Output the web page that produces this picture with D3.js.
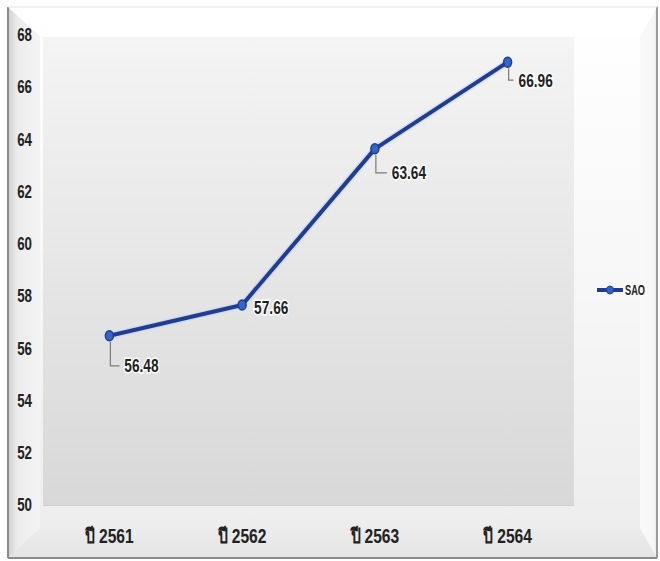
<!DOCTYPE html>
<html><head><meta charset="utf-8">
<script src="https://cdn.jsdelivr.net/npm/d3@7"></script>
<style>
html,body{margin:0;padding:0;background:#fff;}
svg text{font-family:"Liberation Sans","DejaVu Sans Condensed","Noto Sans",sans-serif;font-weight:bold;fill:#222;}
</style></head>
<body>
<script>
const categories = ["ปี 2561", "ปี 2562", "ปี 2563", "ปี 2564"];
const seriesName = "SAO";
const values = [56.48, 57.66, 63.64, 66.96];
const yTicks = [50, 52, 54, 56, 58, 60, 62, 64, 66, 68];
// label placement style: [dx, dy, leader]
const labelStyle = [[15, 30, true], [12, 2, false], [17, 24, true], [11, 18, true]];

const W = 660, H = 561;
const svg = d3.select("body").append("svg").attr("width", W).attr("height", H);
const defs = svg.append("defs");

function lg(id, x1, y1, x2, y2, stops){
  const g = defs.append("linearGradient").attr("id", id)
    .attr("x1", x1).attr("y1", y1).attr("x2", x2).attr("y2", y2);
  stops.forEach(s => g.append("stop").attr("offset", s[0]).attr("stop-color", s[1]));
}
// narrow text: horizontal squeeze about the text's own x
function condense(sel, k){
  sel.each(function(){
    const t = d3.select(this);
    const xx = +t.attr("x") || 0;
    t.attr("transform", `translate(${xx},0) scale(${k},1) translate(${-xx},0)`);
  });
}
lg("plotG", 0, 0, 0, 1, [[0, "#f4f4f4"], [1, "#d8d8d8"]]);
lg("leftG", 0, 0, 1, 0, [[0, "#cfcfcf"], [0.3, "#ececec"], [1, "#f4f4f4"]]);
lg("botG", 0, 0, 0, 1, [[0, "#ececec"], [1, "#e4e4e4"]]);
lg("rightG", 0, 0, 1, 0, [[0, "#fafafa"], [0.85, "#f6f6f6"], [1, "#dedede"]]);
lg("innerG", 0, 0, 0, 1, [[0, "#ffffff"], [0.5, "#f7f7f7"], [1, "#ececec"]]);

// frame
const O = {x0: 8, y0: 7, x1: 657, y1: 558};
const I = {x0: 40, y0: 36, x1: 640, y1: 528};
svg.append("rect").attr("x", O.x0).attr("y", O.y0).attr("width", O.x1 - O.x0).attr("height", O.y1 - O.y0).attr("fill", "url(#innerG)");
svg.append("path").attr("d", `M${O.x0},${O.y0}L${I.x0},${I.y0}L${I.x0},${I.y1}L${O.x0},${O.y1}Z`).attr("fill", "url(#leftG)");
svg.append("path").attr("d", `M${O.x0},${O.y1}L${I.x0},${I.y1}L${I.x1},${I.y1}L${O.x1},${O.y1}Z`).attr("fill", "url(#botG)");
svg.append("path").attr("d", `M${O.x1},${O.y0}L${I.x1},${I.y0}L${I.x1},${I.y1}L${O.x1},${O.y1}Z`).attr("fill", "url(#rightG)");
svg.append("path").attr("d", `M${O.x0},${O.y0}L${I.x0},${I.y0}L${I.x1},${I.y0}L${O.x1},${O.y0}Z`).attr("fill", "#ffffff");
svg.append("line").attr("x1", O.x0).attr("x2", O.x0).attr("y1", O.y0).attr("y2", O.y1).attr("stroke", "#8a8a8a").attr("stroke-width", 2);
svg.append("line").attr("x1", O.x1).attr("x2", O.x1).attr("y1", O.y0).attr("y2", O.y1).attr("stroke", "#9a9a9a").attr("stroke-width", 2);
svg.append("line").attr("x1", O.x0).attr("x2", O.x1).attr("y1", O.y1).attr("y2", O.y1).attr("stroke", "#8a8a8a").attr("stroke-width", 2);
svg.append("line").attr("x1", O.x0).attr("x2", O.x1).attr("y1", O.y0).attr("y2", O.y0).attr("stroke", "#e2e2e2").attr("stroke-width", 1);

// plot
const P = {left: 43, right: 574, top: 37, bottom: 505};
svg.append("rect").attr("x", P.left).attr("y", P.top).attr("width", P.right - P.left).attr("height", P.bottom - P.top).attr("fill", "url(#plotG)");
svg.append("line").attr("x1", P.left).attr("x2", P.right).attr("y1", P.bottom + 0.5).attr("y2", P.bottom + 0.5).attr("stroke", "#cfcfcf");

const x = d3.scaleBand().domain(categories).range([P.left, P.right]);
const y = d3.scaleLinear().domain([50, 68]).range([505, 35]);

const yAxis = svg.append("g").attr("transform", `translate(32,0)`)
  .call(d3.axisLeft(y).tickValues(yTicks).tickSize(0).tickPadding(0));
yAxis.select(".domain").remove();
yAxis.selectAll("text").attr("font-size", 18).attr("fill", "#222").style("font-family", null).call(condense, 0.74);

const xAxis = svg.append("g").attr("transform", `translate(0,${P.bottom})`)
  .call(d3.axisBottom(x).tickSize(0).tickPadding(24));
xAxis.select(".domain").remove();
xAxis.selectAll("text").attr("font-size", 20).attr("fill", "#222").style("font-family", null).call(condense, 0.78);

const cx = d => x(d) + x.bandwidth() / 2;
const pts = categories.map((c, i) => [cx(c), y(values[i])]);

const line = d3.line();
svg.append("path").attr("d", line(pts)).attr("fill", "none").attr("stroke", "#c9d4ee").attr("stroke-width", 7).attr("stroke-linejoin", "round").attr("opacity", 0.6);
svg.append("path").attr("d", line(pts)).attr("fill", "none").attr("stroke", "#1f3d92").attr("stroke-width", 4).attr("stroke-linejoin", "round");
svg.selectAll("ellipse.pt").data(pts).enter().append("ellipse").attr("class", "pt")
  .attr("cx", d => d[0]).attr("cy", d => d[1]).attr("rx", 4).attr("ry", 5)
  .attr("fill", "#3565c4").attr("stroke", "#1f3d92").attr("stroke-width", 1.5);

// data labels
pts.forEach((p, i) => {
  const [dx, dy, leader] = labelStyle[i];
  const tx = p[0] + dx, ty = p[1] + dy;
  if (leader) {
    svg.append("path").attr("d", `M${p[0] + 1},${p[1] + 6}L${p[0] + 1},${ty}L${tx - 5},${ty}`)
      .attr("fill", "none").attr("stroke", "#7a7a7a").attr("stroke-width", 1.2);
  }
  svg.append("text").attr("x", tx).attr("y", ty).attr("dy", "0.35em")
    .attr("font-size", 19).text(values[i].toFixed(2))
    .attr("stroke", "#ffffff").attr("stroke-width", 3).attr("paint-order", "stroke")
    .call(condense, 0.72);
});

// legend
const lgY = 290;
svg.append("line").attr("x1", 597).attr("x2", 623).attr("y1", lgY).attr("y2", lgY).attr("stroke", "#1f3d92").attr("stroke-width", 4);
svg.append("ellipse").attr("cx", 610).attr("cy", lgY).attr("rx", 3.5).attr("ry", 4).attr("fill", "#3565c4").attr("stroke", "#1f3d92");
svg.append("text").attr("x", 625).attr("y", lgY).attr("dy", "0.35em").attr("font-size", 14).text(seriesName).call(condense, 0.66);
</script>
</body></html>
